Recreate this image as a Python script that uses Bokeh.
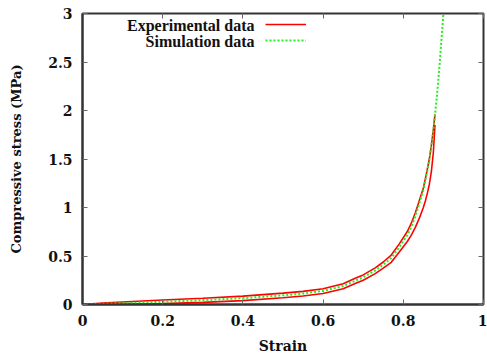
from bokeh.plotting import figure
from bokeh.models import LinearAxis, Legend, LegendItem, Label, FixedTicker, Range1d
from bokeh.core.properties import value
from bokeh.embed import file_html
from bokeh.resources import INLINE

# ---- data ----
sim_strain = [0, 0.05, 0.1, 0.2, 0.3, 0.4, 0.5, 0.55, 0.6, 0.65, 0.68, 0.7, 0.73, 0.75, 0.77,
              0.79, 0.81, 0.82, 0.83, 0.84, 0.85, 0.855, 0.86, 0.865, 0.87, 0.875, 0.88,
              0.885, 0.89, 0.895, 0.9]
sim_stress = [0, 0.007, 0.014, 0.028, 0.045, 0.065, 0.095, 0.113, 0.14, 0.19, 0.245, 0.28, 0.35,
              0.41, 0.48, 0.59, 0.715, 0.80, 0.91, 1.04, 1.18, 1.28, 1.38, 1.50, 1.64, 1.80,
              1.99, 2.2, 2.45, 2.72, 3.0]

exp_strain = [0, 0.05, 0.1, 0.2, 0.3, 0.4, 0.5, 0.55, 0.6, 0.65, 0.68, 0.7, 0.73, 0.75, 0.77,
              0.79, 0.81, 0.82, 0.83, 0.84, 0.85, 0.855, 0.86, 0.865, 0.87, 0.875, 0.879]
exp_upper = [0, 0.015, 0.026, 0.046, 0.065, 0.086, 0.117, 0.135, 0.163, 0.214, 0.27, 0.305, 0.377,
             0.438, 0.51, 0.625, 0.752, 0.838, 0.945, 1.073, 1.202, 1.295, 1.396, 1.50, 1.64,
             1.80, 1.96]
exp_lower = [0, 0.001, 0.004, 0.01, 0.022, 0.04, 0.069, 0.087, 0.113, 0.162, 0.216, 0.25, 0.318,
             0.375, 0.435, 0.542, 0.65, 0.715, 0.795, 0.89, 1.0, 1.067, 1.148, 1.24, 1.37,
             1.57, 1.85]

x_ticks = [0, 0.2, 0.4, 0.6, 0.8, 1]
x_tick_labels = ["0", "0.2", "0.4", "0.6", "0.8", "1"]
y_ticks = [0, 0.5, 1, 1.5, 2, 2.5, 3]
y_tick_labels = ["0", "0.5", "1", "1.5", "2", "2.5", "3"]

FONT = "Liberation Serif"
AXFONT = "DejaVu Serif"
FRAME = "#333333"
TICK = "#666666"

p = figure(width=487, height=356, x_range=Range1d(0, 1), y_range=Range1d(0, 3),
           output_backend="svg", toolbar_location=None,
           min_border_left=82, min_border_right=4, min_border_top=13, min_border_bottom=51)
p.grid.visible = False
p.outline_line_color = FRAME
p.outline_line_width = 2

bottom = p.xaxis[0]
left = p.yaxis[0]
bottom.ticker = FixedTicker(ticks=x_ticks)
bottom.major_label_overrides = dict(zip(x_ticks, x_tick_labels))
left.ticker = FixedTicker(ticks=y_ticks)
left.major_label_overrides = dict(zip(y_ticks, y_tick_labels))
bottom.axis_label = "Strain"
left.axis_label = "Compressive stress (MPa)"

top = LinearAxis(ticker=FixedTicker(ticks=x_ticks), major_label_overrides={t: "" for t in x_ticks},
                 major_label_text_font_size="1px", major_label_standoff=0)
right = LinearAxis(ticker=FixedTicker(ticks=y_ticks), major_label_overrides={t: "" for t in y_ticks},
                   major_label_text_font_size="1px", major_label_standoff=0)
p.add_layout(top, "above")
p.add_layout(right, "right")

p.axis.major_tick_in = 5
p.axis.major_tick_out = 0
p.axis.major_tick_line_color = TICK
p.axis.minor_tick_line_color = None
top.axis_line_color = None
right.axis_line_color = None
for ax in (bottom, left):
    ax.axis_line_color = FRAME
    ax.axis_line_width = 2
    ax.update(major_label_text_font=AXFONT, major_label_text_font_style="bold",
              major_label_text_font_size="14px", major_label_text_color="#111111",
              axis_label_text_font=AXFONT, axis_label_text_font_style="bold",
              axis_label_text_font_size="14px", axis_label_text_color="#111111")
left.axis_label_text_font_size = "13px"

bottom.major_label_standoff = 10
bottom.axis_label_standoff = 9
left.major_label_standoff = 10
left.axis_label_standoff = 21

r_up = p.line(exp_strain, exp_upper, line_color="#ff0000", line_width=1.6)
r_lo = p.line(exp_strain, exp_lower, line_color="#ff0000", line_width=1.6)
r_sim = p.line(sim_strain, sim_stress, line_color="#22ee22", line_width=2, line_dash="2 2")

legend = Legend(items=[LegendItem(label=value(""), renderers=[r_up]),
                       LegendItem(label=value(""), renderers=[r_sim])],
                location=(183, 256), padding=0, margin=0, spacing=0,
                glyph_width=41, glyph_height=16, label_width=0, label_standoff=0,
                label_height=16, border_line_color=None, background_fill_alpha=0)
p.add_layout(legend, "center")

for txt, yv in (("Experimental data", 2.877), ("Simulation data", 2.712)):
    p.add_layout(Label(x=0.429, y=yv, text=txt, text_align="right", text_baseline="middle",
                       text_font=FONT, text_font_style="bold", text_font_size="16px",
                       text_color="#111111"))

open("out.html", "w").write(file_html(p, INLINE))
